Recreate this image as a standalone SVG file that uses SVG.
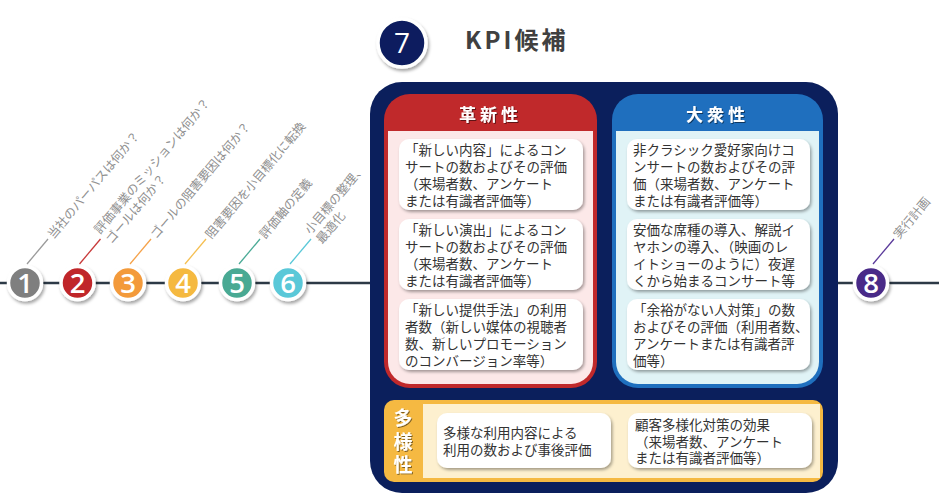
<svg xmlns="http://www.w3.org/2000/svg" width="939" height="500" viewBox="0 0 939 500">
<defs>
<filter id="sh" x="-20%" y="-20%" width="150%" height="160%">
<feDropShadow dx="1.5" dy="2" stdDeviation="1.4" flood-color="#000" flood-opacity="0.35"/>
</filter>
<filter id="tsh" x="-20%" y="-20%" width="140%" height="160%">
<feDropShadow dx="1" dy="1" stdDeviation="0.6" flood-color="#000" flood-opacity="0.5"/>
</filter>
<filter id="csh" x="-30%" y="-30%" width="170%" height="170%">
<feDropShadow dx="1.5" dy="2.5" stdDeviation="1.6" flood-color="#000" flood-opacity="0.35"/>
</filter>
</defs>
<style>
.jp{font-family:"Noto Sans CJK JP","Noto Sans",sans-serif;}
.lbl{font-family:"Noto Sans CJK JP","Noto Sans",sans-serif;font-size:12.3px;fill:#8f8f8f;}
.card{fill:#ffffff;filter:url(#sh);}
.ct{font-family:"Noto Sans CJK JP","Noto Sans",sans-serif;font-size:13.5px;fill:#333333;}
.hd{font-family:"Noto Sans CJK JP","Noto Sans",sans-serif;font-size:17px;font-weight:bold;fill:#ffffff;letter-spacing:4px;filter:url(#tsh);}
.num{font-family:"Open Sans","DejaVu Sans",sans-serif;font-size:27.5px;font-weight:600;fill:#ffffff;text-anchor:middle;}
.ring{stroke:#ffffff;stroke-width:3.5;filter:url(#csh);}
.tl{stroke:#2c3946;stroke-width:2.5;fill:none;}
.ld{stroke-width:1.3;fill:none;}
</style>
<rect width="939" height="500" fill="#ffffff"/>

<g id="connectors">
<line class="tl" x1="0" y1="283" x2="372" y2="283"/>
<line class="tl" x1="836" y1="283" x2="939" y2="283"/>
<line class="ld" stroke="#9a9a9a" x1="27" y1="264" x2="48" y2="239"/>
<line class="ld" stroke="#c83a3a" x1="79.5" y1="264" x2="100.5" y2="239"/>
<line class="ld" stroke="#f5a24a" x1="130" y1="264" x2="151" y2="239"/>
<line class="ld" stroke="#f5bf52" x1="185" y1="264" x2="206" y2="239"/>
<line class="ld" stroke="#4aaa96" x1="239" y1="264" x2="260" y2="239"/>
<line class="ld" stroke="#5bc8d8" x1="290" y1="264" x2="311" y2="239"/>
<line class="ld" stroke="#5a3a9a" x1="873" y1="264" x2="894" y2="239"/>
</g>

<g id="n1">
<circle class="ring" cx="25" cy="283" r="16.5" fill="#7f7f7f"/>
<text class="num" x="25" y="293">1</text>
<text class="lbl" transform="translate(50,236.7) rotate(-50)" x="0" y="4.5">当社のパーパスは何か？</text>
</g>
<g id="n2">
<circle class="ring" cx="77.5" cy="283" r="16.5" fill="#c0282a"/>
<text class="num" x="77.5" y="293">2</text>
<text class="lbl" transform="translate(102.4,236.7) rotate(-50)"><tspan x="0" y="-3">評価事業のミッションは何か？</tspan><tspan x="0" y="12">ゴールは何か？</tspan></text>
</g>
<g id="n3">
<circle class="ring" cx="128" cy="283" r="16.5" fill="#f39a3b"/>
<text class="num" x="128" y="293">3</text>
<text class="lbl" transform="translate(152.9,236.7) rotate(-50)" x="0" y="4.5">ゴールの阻害要因は何か？</text>
</g>
<g id="n4">
<circle class="ring" cx="183" cy="283" r="16.5" fill="#f5b940"/>
<text class="num" x="183" y="293">4</text>
<text class="lbl" transform="translate(207.9,236.7) rotate(-50)" x="0" y="4.5">阻害要因を小目標化に転換</text>
</g>
<g id="n5">
<circle class="ring" cx="237" cy="283" r="16.5" fill="#49a993"/>
<text class="num" x="237" y="293">5</text>
<text class="lbl" transform="translate(261.9,236.7) rotate(-50)" x="0" y="4.5">評価軸の定義</text>
</g>
<g id="n6">
<circle class="ring" cx="288" cy="283" r="16.5" fill="#5ac8d8"/>
<text class="num" x="288" y="293">6</text>
<text class="lbl" transform="translate(312.9,236.7) rotate(-50)"><tspan x="0" y="-3">小目標の整理、</tspan><tspan x="0" y="12">最適化</tspan></text>
</g>
<g id="n8">
<circle class="ring" cx="871" cy="283" r="16.5" fill="#4a2a88"/>
<text class="num" x="871" y="293">8</text>
<text class="lbl" transform="translate(895.9,236.7) rotate(-50)" x="0" y="4.5">実行計画</text>
</g>

<g id="n7">
<circle class="ring" cx="402" cy="43" r="24" fill="#0b1f5e"/>
<text class="num" x="402" y="53" style="font-size:28px;font-weight:500">7</text>
<text class="jp" x="465" y="49" style="font-size:24px;font-weight:bold;fill:#404040;letter-spacing:3px">KPI候補</text>
</g>

<g id="kpi">
<rect x="370" y="82" width="468" height="411" rx="32" fill="#0b1f5c"/>
</g>

<g id="innovation">
<rect x="384" y="94" width="213" height="294" rx="26" fill="#c0292b"/>
<path d="M388,131 H593 V362 A22,22 0 0 1 571,384 H410 A22,22 0 0 1 388,362 Z" fill="#fce8e8"/>
<text class="hd" x="490.5" y="121" text-anchor="middle">革新性</text>
<rect class="card" x="399" y="139" width="184" height="71" rx="10"/>
<text class="ct"><tspan x="405" y="154.5">「新しい内容」によるコン</tspan><tspan x="405" y="171.5">サートの数およびその評価</tspan><tspan x="405" y="188.5">（来場者数、アンケート</tspan><tspan x="405" y="205.5">または有識者評価等）</tspan></text>
<rect class="card" x="399" y="219" width="184" height="71" rx="10"/>
<text class="ct"><tspan x="405" y="234.5">「新しい演出」によるコン</tspan><tspan x="405" y="251.5">サートの数およびその評価</tspan><tspan x="405" y="268.5">（来場者数、アンケート</tspan><tspan x="405" y="285.5">または有識者評価等）</tspan></text>
<rect class="card" x="399" y="299" width="184" height="71" rx="10"/>
<text class="ct"><tspan x="405" y="314.5">「新しい提供手法」の利用</tspan><tspan x="405" y="331.5">者数（新しい媒体の視聴者</tspan><tspan x="405" y="348.5">数、新しいプロモーション</tspan><tspan x="405" y="365.5">のコンバージョン率等）</tspan></text>
</g>

<g id="popularity">
<rect x="612" y="94" width="211" height="294" rx="26" fill="#1f6fbe"/>
<path d="M616,131 H819 V362 A22,22 0 0 1 797,384 H638 A22,22 0 0 1 616,362 Z" fill="#e0f3f6"/>
<text class="hd" x="717.5" y="121" text-anchor="middle">大衆性</text>
<rect class="card" x="627" y="139" width="183" height="71" rx="10"/>
<text class="ct"><tspan x="633" y="154.5">非クラシック愛好家向けコ</tspan><tspan x="633" y="171.5">ンサートの数およびその評</tspan><tspan x="633" y="188.5">価（来場者数、アンケート</tspan><tspan x="633" y="205.5">または有識者評価等）</tspan></text>
<rect class="card" x="627" y="219" width="183" height="71" rx="10"/>
<text class="ct"><tspan x="633" y="234.5">安価な席種の導入、解説イ</tspan><tspan x="633" y="251.5">ヤホンの導入、（映画のレ</tspan><tspan x="633" y="268.5">イトショーのように）夜遅</tspan><tspan x="633" y="285.5">くから始まるコンサート等</tspan></text>
<rect class="card" x="627" y="299" width="183" height="71" rx="10"/>
<text class="ct"><tspan x="633" y="314.5">「余裕がない人対策」の数</tspan><tspan x="633" y="331.5">およびその評価（利用者数、</tspan><tspan x="633" y="348.5">アンケートまたは有識者評</tspan><tspan x="633" y="365.5">価等）</tspan></text>
</g>

<g id="diversity">
<rect x="384" y="400" width="439" height="82" rx="10" fill="#f5b942"/>
<rect x="423" y="404" width="397" height="74" fill="#fdf0cf"/>
<text class="jp" style="font-size:19px;font-weight:bold;fill:#ffffff;filter:url(#tsh)" text-anchor="middle"><tspan x="403" y="425">多</tspan><tspan x="403" y="449">様</tspan><tspan x="403" y="472">性</tspan></text>
<rect class="card" x="437" y="413" width="174" height="55" rx="10"/>
<text class="ct"><tspan x="443" y="438">多様な利用内容による</tspan><tspan x="443" y="455">利用の数および事後評価</tspan></text>
<rect class="card" x="628" y="413" width="184" height="55" rx="10"/>
<text class="ct"><tspan x="635" y="430">顧客多様化対策の効果</tspan><tspan x="635" y="446.5">（来場者数、アンケート</tspan><tspan x="635" y="463">または有識者評価等）</tspan></text>
</g>
</svg>
